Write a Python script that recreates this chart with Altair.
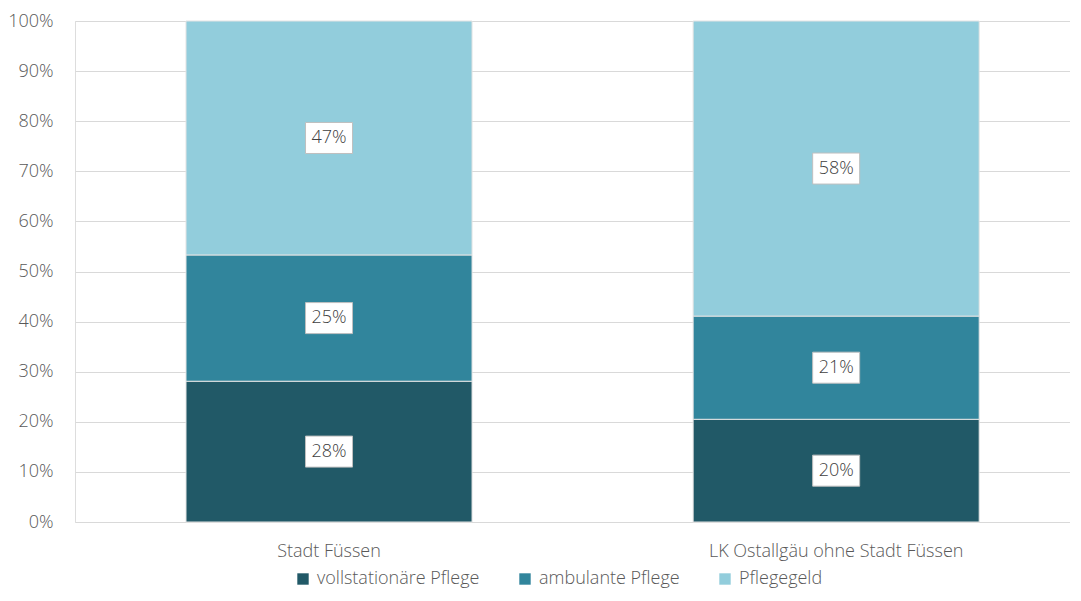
import altair as alt
import pandas as pd

categories = ["Stadt Füssen", "LK Ostallgäu ohne Stadt Füssen"]
series = ["vollstationäre Pflege", "ambulante Pflege", "Pflegegeld"]
values_fuessen = [28.1, 25.2, 46.7]
values_lk = [20.5, 20.6, 58.9]
labels_fuessen = ["28%", "25%", "47%"]
labels_lk = ["20%", "21%", "58%"]
colors = ["#215967", "#31859C", "#92CDDC"]

rows = []
for cat, vals, labs in [(categories[0], values_fuessen, labels_fuessen),
                        (categories[1], values_lk, labels_lk)]:
    cum = 0.0
    for i, (s, v, l) in enumerate(zip(series, vals, labs)):
        rows.append({"Kategorie": cat, "Serie": s, "order": i, "Wert": v,
                     "lo": cum, "hi": cum + v, "mid": cum + v / 2, "label": l})
        cum += v
df = pd.DataFrame(rows)

FONT = "Open Sans"
WEIGHT = 300
FS = 18

x_enc = alt.X("Kategorie:N", sort=categories, title=None,
              scale=alt.Scale(paddingInner=0.436, paddingOuter=0.199, align=0.55),
              axis=alt.Axis(labelAngle=0, domain=False, ticks=False, labelPadding=20,
                            labelFontSize=FS, labelColor="#595959", labelFont=FONT,
                            labelFontWeight=WEIGHT, labelLimit=0))

base = alt.Chart(df)

bars = base.mark_bar(stroke="#e3e3e3", strokeWidth=1).encode(
    x=x_enc,
    y=alt.Y("lo:Q", title=None,
            scale=alt.Scale(domain=[0, 100], nice=False),
            axis=alt.Axis(values=list(range(0, 101, 10)), labelExpr="datum.value + '%'",
                          domain=False, ticks=False, labelPadding=22,
                          grid=True, gridColor="#d9d9d9", gridWidth=1.2,
                          labelFontSize=FS, labelColor="#595959", labelFont=FONT,
                          labelFontWeight=WEIGHT)),
    y2="hi:Q",
    color=alt.Color("Serie:N", sort=series,
                    scale=alt.Scale(domain=series, range=colors),
                    legend=alt.Legend(title=None, orient="none", direction="horizontal",
                                      legendX=219, legendY=549,
                                      symbolType="square", symbolSize=130,
                                      symbolStrokeWidth=0, labelFontSize=FS,
                                      labelColor="#595959", labelFont=FONT,
                                      labelFontWeight=WEIGHT, labelLimit=0,
                                      columnPadding=36, labelOffset=5, padding=0)),
    order=alt.Order("order:Q"),
)

boxes = base.mark_point(
    shape="M-1,-0.66L1,-0.66L1,0.66L-1,0.66Z",
    filled=True, fill="white", stroke="#bfbfbf", strokeWidth=1, opacity=1,
    size=2209,
).encode(
    x=alt.X("Kategorie:N", sort=categories),
    y=alt.Y("mid:Q"),
)

texts = base.mark_text(fontSize=FS, color="#404040", font=FONT, fontWeight=WEIGHT).encode(
    x=alt.X("Kategorie:N", sort=categories),
    y=alt.Y("mid:Q"),
    text="label:N",
)

chart = alt.layer(bars, boxes, texts).properties(
    width=995, height=501,
    autosize=alt.AutoSizeParams(type="none"),
    padding={"left": 67, "top": 13, "right": 0, "bottom": 71},
).configure_view(stroke=None).configure(background="white")

chart.save("out.html", embed_options={"renderer": "svg", "actions": False})
